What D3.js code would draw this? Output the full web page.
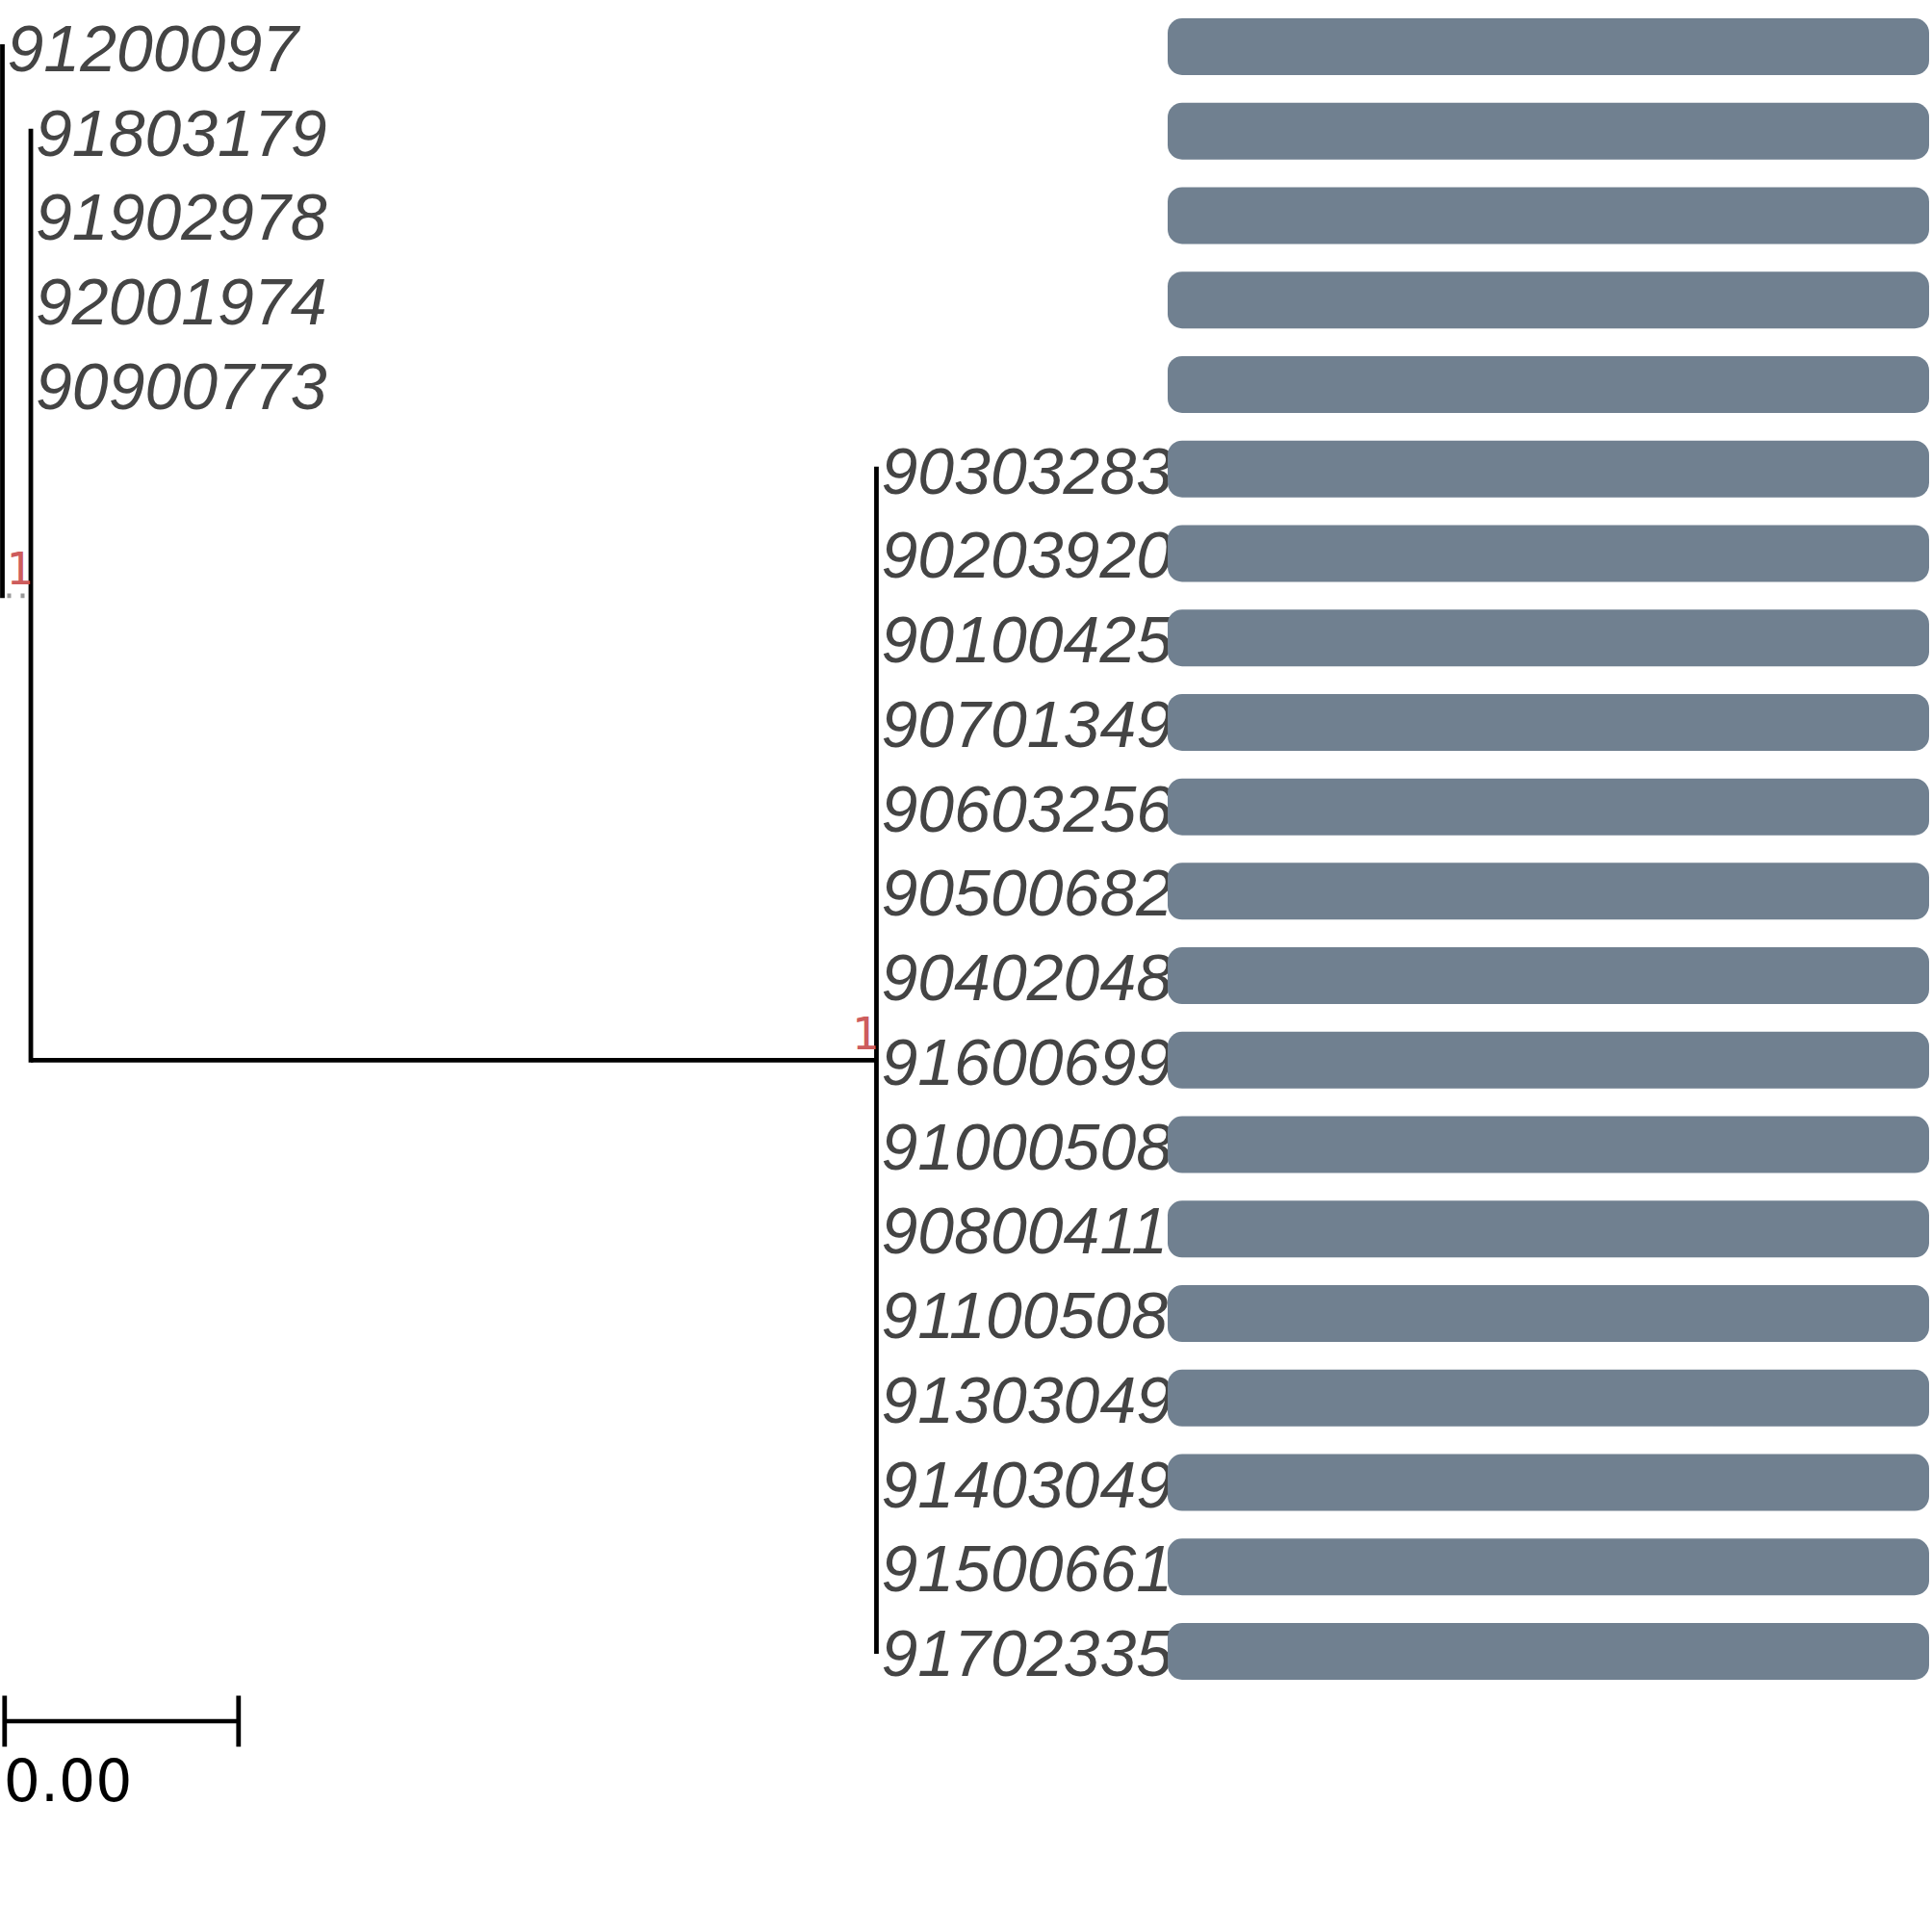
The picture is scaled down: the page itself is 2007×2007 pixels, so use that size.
<!DOCTYPE html>
<html>
<head>
<meta charset="utf-8">
<script src="https://cdn.jsdelivr.net/npm/d3@7"></script>
<style>
  body { margin: 0; background: #fff; }
  svg { display: block; }
</style>
</head>
<body>
<svg id="chart" width="2007" height="2007"></svg>
<script>
// tree nodes: id, parent, branch length (in substitutions/site)
var nodeIds     = ["root", "91200097", "n1", "91803179", "91902978", "92001974", "90900773", "n2",
                   "90303283", "90203920", "90100425", "90701349", "90603256", "90500682", "90402048",
                   "91600699", "91000508", "90800411", "91100508", "91303049", "91403049", "91500661", "91702335"];
var nodeParents = ["", "root", "root", "n1", "n1", "n1", "n1", "n1",
                   "n2", "n2", "n2", "n2", "n2", "n2", "n2",
                   "n2", "n2", "n2", "n2", "n2", "n2", "n2", "n2"];
var branchLens  = [0, 0, 0.000243, 0, 0, 0, 0, 0.00723,
                   0, 0, 0, 0, 0, 0, 0, 0, 0, 0, 0, 0, 0, 0, 0];
// support values on internal nodes
var supportNodes  = ["n1", "n2"];
var supportValues = [1, 1];
// bar value per tip (all tips identical)
var barValues = [1, 1, 1, 1, 1, 1, 1, 1, 1, 1, 1, 1, 1, 1, 1, 1, 1, 1, 1, 1];
var scaleBarLen = 0.002;

var svg = d3.select("#chart");

var table = nodeIds.map(function(id, i) {
    return { id: id, parent: nodeParents[i], len: branchLens[i] };
});
var root = d3.stratify()
    .id(function(d) { return d.id; })
    .parentId(function(d) { return d.parent || null; })(table);

// cumulative depth
root.eachBefore(function(n) {
    n.depth2 = n.parent ? n.parent.depth2 + n.data.len : 0;
});
var tips = root.leaves();
var tipNames = tips.map(function(d) { return d.id; });

var x = d3.scaleLinear().domain([0, 0.008]).range([2.5, 2.5 + 0.008 * 121500]);
var y = d3.scalePoint().domain(tipNames).range([48.5, 1715.5]);

// y of internal nodes = mid of first and last child
root.eachAfter(function(n) {
    if (!n.children) { n.py = y(n.id); }
    else {
        var ys = n.children.map(function(c) { return c.py; });
        n.py = (d3.min(ys) + d3.max(ys)) / 2;
    }
    n.px = x(n.depth2);
});

var lw = 4.8;
var g = svg.append("g");

// vertical connectors
g.selectAll("line.vert")
    .data(root.descendants().filter(function(d) { return d.children; }))
    .enter().append("line")
    .attr("class", "vert")
    .attr("x1", function(d) { return d.px; })
    .attr("x2", function(d) { return d.px; })
    .attr("y1", function(d) { return d3.min(d.children, function(c) { return c.py; }) - lw / 2; })
    .attr("y2", function(d) { return d3.max(d.children, function(c) { return c.py; }) + lw / 2; })
    .attr("stroke", "#000")
    .attr("stroke-width", lw);

// horizontal branches (very short ones drawn dotted grey)
var links = root.descendants().filter(function(d) { return d.parent && d.px - d.parent.px > 0.5; });
g.selectAll("line.horiz")
    .data(links)
    .enter().append("line")
    .attr("class", "horiz")
    .attr("x1", function(d) { return d.parent.px; })
    .attr("x2", function(d) { return d.px; })
    .attr("y1", function(d) { return d.py; })
    .attr("y2", function(d) { return d.py; })
    .attr("stroke", function(d) { return d.px - d.parent.px < 60 ? "#999" : "#000"; })
    .attr("stroke-width", lw)
    .attr("stroke-dasharray", function(d) { return d.px - d.parent.px < 60 ? "4,10" : null; })
    .attr("stroke-dashoffset", -5);

// tip labels
g.selectAll("text.tip")
    .data(tips)
    .enter().append("text")
    .attr("class", "tip")
    .attr("x", function(d) { return d.px + 5; })
    .attr("y", function(d) { return d.py + 25.5; })
    .attr("font-family", "'Liberation Sans', Arial, sans-serif")
    .attr("font-style", "italic")
    .attr("font-size", 68)
    .attr("fill", "#444")
    .text(function(d) { return d.id; });

// support labels
var supportMap = {};
supportNodes.forEach(function(id, i) { supportMap[id] = supportValues[i]; });
g.selectAll("text.support")
    .data(root.descendants().filter(function(d) { return supportMap[d.id] !== undefined; }))
    .enter().append("text")
    .attr("class", "support")
    .attr("x", function(d) { return d.px + 2; })
    .attr("y", function(d) { return d.py - 11.5; })
    .attr("text-anchor", "end")
    .attr("font-family", "'DejaVu Sans Mono', monospace")
    .attr("font-size", 46)
    .attr("fill", "#cd5c5c")
    .text(function(d) { return supportMap[d.id]; });

// bars
var xb = d3.scaleLinear().domain([0, 1]).range([1213, 2004]);
var barH = 59;
g.selectAll("rect.bar")
    .data(tips)
    .enter().append("rect")
    .attr("class", "bar")
    .attr("x", xb(0))
    .attr("y", function(d) { return d.py - barH / 2; })
    .attr("width", function(d, i) { return xb(barValues[i]) - xb(0); })
    .attr("height", barH)
    .attr("rx", 15)
    .attr("ry", 15)
    .attr("fill", "#708090");

// scale bar
var sb = svg.append("g").attr("transform", "translate(0,1788)");
var x0 = 4.8, x1 = x0 + (x(scaleBarLen) - x(0));
sb.append("line").attr("x1", x0).attr("x2", x1).attr("y1", 0).attr("y2", 0)
    .attr("stroke", "#000").attr("stroke-width", 4.3);
[x0, x1].forEach(function(px) {
    sb.append("line").attr("x1", px).attr("x2", px).attr("y1", -26.5).attr("y2", 26.5)
        .attr("stroke", "#000").attr("stroke-width", 4.8);
});
sb.append("text")
    .attr("x", x0 - 1)
    .attr("y", 83)
    .attr("font-family", "'DejaVu Sans', sans-serif")
    .attr("font-size", 60)
    .attr("fill", "#000")
    .text(d3.format(".2f")(scaleBarLen));
</script>
</body>
</html>
